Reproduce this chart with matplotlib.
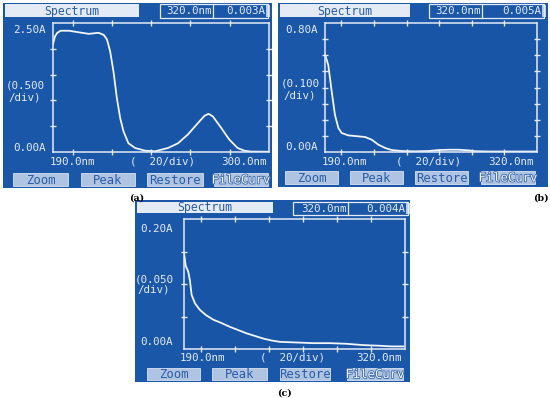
import matplotlib
matplotlib.use("Agg")
import matplotlib.pyplot as plt
from matplotlib.patches import Rectangle
import matplotlib.patheffects as pe
import numpy as np

# ---------------- data ----------------
a_nm = [190, 191.0, 192.2, 193.9, 198.1, 203.1, 208.2, 213.2, 215.8, 217.5, 219.1, 220.8,
        222.5, 224.2, 225.9, 228.4, 231.8, 236.8, 241.9, 248.6, 253.7, 258.7, 263.8, 267.1,
        269.2, 271.4, 275.6, 279.8, 284.0, 287.4, 290.7, 300]
a_abs = [2.09, 2.24, 2.31, 2.35, 2.35, 2.32, 2.29, 2.31, 2.27, 2.18, 1.95, 1.56,
         1.05, 0.66, 0.40, 0.17, 0.078, 0.026, 0.013, 0.078, 0.17, 0.34, 0.56, 0.70,
         0.74, 0.69, 0.47, 0.24, 0.078, 0.026, 0.008, 0.005]

b_nm = [190, 192.0, 194.1, 196.1, 198.2, 200.2, 204.3, 210.5, 214.6, 218.7, 222.8, 226.9,
        230.9, 237.1, 245.3, 253.5, 259.6, 265.7, 271.9, 278.0, 282.1, 290.3, 306.7, 320]
b_abs = [0.604, 0.54, 0.376, 0.23, 0.149, 0.118, 0.103, 0.097, 0.093, 0.076, 0.045, 0.025,
         0.012, 0.006, 0.004, 0.006, 0.012, 0.014, 0.014, 0.010, 0.005, 0.003, 0.003, 0.003]

c_nm = [190, 191.0, 192.5, 193.5, 194.5, 196.5, 199.4, 203, 207.3, 212, 217.1, 222,
        226.9, 231.8, 236.7, 241.6, 246.5, 256.3, 266, 275.9, 285.7, 295.5, 305, 312, 319]
c_abs = [0.148, 0.128, 0.119, 0.105, 0.083, 0.070, 0.060, 0.052, 0.045, 0.040, 0.034, 0.029,
         0.024, 0.020, 0.016, 0.013, 0.011, 0.010, 0.009, 0.009, 0.008, 0.006, 0.005, 0.004, 0.004]

x_ranges = [(190, 300), (190, 320), (190, 320)]
y_tops = [2.5, 0.8, 0.2]
y_steps = [0.5, 0.1, 0.05]
y_top_labels = ["2.50A", "0.80A", "0.20A"]
y_div_labels = [("(0.500", "/div)"), ("(0.100", "/div)"), ("(0.050", "/div)")]
y_zero_label = "0.00A"
x_left_labels = ["190.0nm", "190.0nm", "190.0nm"]
x_right_labels = ["300.0nm", "320.0nm", "320.0nm"]
x_div_label = "(  20/div)"
readout_nm = "320.0nm"
readout_abs = ["0.003A", "0.005A", "0.004A"]
title_text = "Spectrum"
button_labels = ["Zoom", "Peak", "Restore", "FileCurv"]
panel_letters = ["(a)", "(b)", "(c)"]

series = [(a_nm, a_abs), (b_nm, b_abs), (c_nm, c_abs)]

# ---------------- layout (pixel coords) ----------------
layout = [
    dict(screen=(3, 3, 272, 188), title=(5, 4, 139, 17), readout=(160, 4, 268, 18, 213),
         plot=(53, 23, 269, 152), ytop=(13, 30), ydiv=(6, 85, 97), yzero=(13, 148),
         xlab_y=162, xl=50, xd=(130, 195), xr=267,
         buttons=[(13, 68), (81, 135), (147, 203), (214, 268)], btn_y=(173, 186),
         letter=(137, 198)),
    dict(screen=(278, 3, 548, 187), title=(280, 4, 410, 17), readout=(429, 4, 544, 18, 482),
         plot=(325, 23, 537, 152), ytop=(285, 30), ydiv=(281, 84, 95), yzero=(285, 147),
         xlab_y=162, xl=322, xd=(398, 460), xr=534,
         buttons=[(285, 338), (350, 403), (415, 468), (481, 535)], btn_y=(171, 184),
         letter=(541, 198)),
    dict(screen=(135, 200, 410, 382), title=(137, 202, 273, 213), readout=(293, 202, 408, 215, 348),
         plot=(184, 219, 405, 349), ytop=(140, 229), ydiv=(135, 279, 290), yzero=(140, 342),
         xlab_y=358, xl=180, xd=(258, 327), xr=402,
         buttons=[(147, 200), (212, 267), (280, 330), (347, 403)], btn_y=(368, 380),
         letter=(285, 393)),
]

W, H = 550, 398
BLUE = "#1a57a8"
PLOTBLUE = "#1855a6"
LIGHT = "#e4ebf5"
BTN = "#aec4e2"
TXTBLUE = "#2a5ca6"
MONO = "DejaVu Sans Mono"

fig = plt.figure(figsize=(5.5, 3.98), dpi=100)
fig.patch.set_facecolor("white")
bg = fig.add_axes([0, 0, 1, 1], zorder=0)
bg.set_xlim(0, W)
bg.set_ylim(H, 0)
bg.axis("off")


def fig_rect(x0, y0, x1, y1):
    return [x0 / W, 1 - y1 / H, (x1 - x0) / W, (y1 - y0) / H]


for i, L in enumerate(layout):
    x0, y0, x1, y1 = L["screen"]
    bg.add_patch(Rectangle((x0, y0), x1 - x0, y1 - y0, facecolor=BLUE, edgecolor="none"))
    # title box
    tx0, ty0, tx1, ty1 = L["title"]
    bg.add_patch(Rectangle((tx0, ty0), tx1 - tx0, ty1 - ty0, facecolor=LIGHT, edgecolor="none"))
    bg.text((tx0 + tx1) / 2, (ty0 + ty1) / 2 + 0.5, title_text, family=MONO, fontsize=8.3,
            color=TXTBLUE, ha="center", va="center")
    # readout box
    rx0, ry0, rx1, ry1, rdiv = L["readout"]
    bg.add_patch(Rectangle((rx0, ry0), rx1 - rx0, ry1 - ry0, facecolor="none",
                           edgecolor=LIGHT, lw=0.9))
    bg.plot([rdiv, rdiv], [ry0, ry1], color=LIGHT, lw=0.9)
    bg.text(rdiv - 1, (ry0 + ry1) / 2 + 0.5, readout_nm, family=MONO, fontsize=7.8,
            color=LIGHT, ha="right", va="center")
    bg.text(rx1 - 3, (ry0 + ry1) / 2 + 0.5, readout_abs[i], family=MONO, fontsize=7.8,
            color=LIGHT, ha="right", va="center")
    bg.add_patch(Rectangle((rx1 - 2, ry0 + 1), 3.5, ry1 - ry0 - 2, facecolor=LIGHT,
                           edgecolor="none", alpha=0.8))
    # y labels
    fs = 7.8
    bg.text(L["ytop"][0], L["ytop"][1], y_top_labels[i], family=MONO, fontsize=fs,
            color=LIGHT, ha="left", va="center")
    bg.text(L["ydiv"][0], L["ydiv"][1], y_div_labels[i][0], family=MONO, fontsize=fs,
            color=LIGHT, ha="left", va="center")
    bg.text(L["ydiv"][0] + 2, L["ydiv"][2], y_div_labels[i][1], family=MONO, fontsize=fs,
            color=LIGHT, ha="left", va="center")
    bg.text(L["yzero"][0], L["yzero"][1], y_zero_label, family=MONO, fontsize=fs,
            color=LIGHT, ha="left", va="center")
    # x labels
    bg.text(L["xl"], L["xlab_y"], x_left_labels[i], family=MONO, fontsize=fs,
            color=LIGHT, ha="left", va="center")
    bg.text((L["xd"][0] + L["xd"][1]) / 2, L["xlab_y"], x_div_label, family=MONO,
            fontsize=fs, color=LIGHT, ha="center", va="center")
    bg.text(L["xr"], L["xlab_y"], x_right_labels[i], family=MONO, fontsize=fs,
            color=LIGHT, ha="right", va="center")
    # buttons
    by0, by1 = L["btn_y"]
    for lab, (bx0, bx1) in zip(button_labels, L["buttons"]):
        bg.add_patch(Rectangle((bx0, by0), bx1 - bx0, by1 - by0, facecolor=BTN,
                               edgecolor="#d8e3f2", lw=0.6))
        if lab == "FileCurv":
            bg.text((bx0 + bx1) / 2, (by0 + by1) / 2 + 0.5, lab, family=MONO, fontsize=8.8,
                    color="#f4f7fc", ha="center", va="center",
                    path_effects=[pe.withStroke(linewidth=1.2, foreground="#3a68ac")])
        else:
            bg.text((bx0 + bx1) / 2, (by0 + by1) / 2 + 0.5, lab, family=MONO, fontsize=8.8,
                    color=TXTBLUE, ha="center", va="center")
    # panel letter
    bg.text(L["letter"][0], L["letter"][1], panel_letters[i], family="DejaVu Serif",
            fontsize=6.8, fontweight="bold", color="black", ha="center", va="center")

    # plot area
    ax = fig.add_axes(fig_rect(*L["plot"]), zorder=1)
    ax.set_facecolor(PLOTBLUE)
    nm, ab = series[i]
    ax.plot(nm, ab, color="#f2f5fa", lw=1.3, solid_joinstyle="round")
    ax.set_xlim(*x_ranges[i])
    ax.set_ylim(0, y_tops[i])
    ax.set_xticks(np.arange(200, x_ranges[i][1], 20))
    ax.set_yticks(np.arange(y_steps[i], y_tops[i] - 1e-9, y_steps[i]))
    ax.tick_params(direction="inout", length=4, width=1, colors=LIGHT, top=True,
                   right=True, labelbottom=False, labelleft=False)
    for s in ax.spines.values():
        s.set_color(LIGHT)
        s.set_linewidth(1.1)

fig.savefig("out.png", dpi=100, facecolor="white")
